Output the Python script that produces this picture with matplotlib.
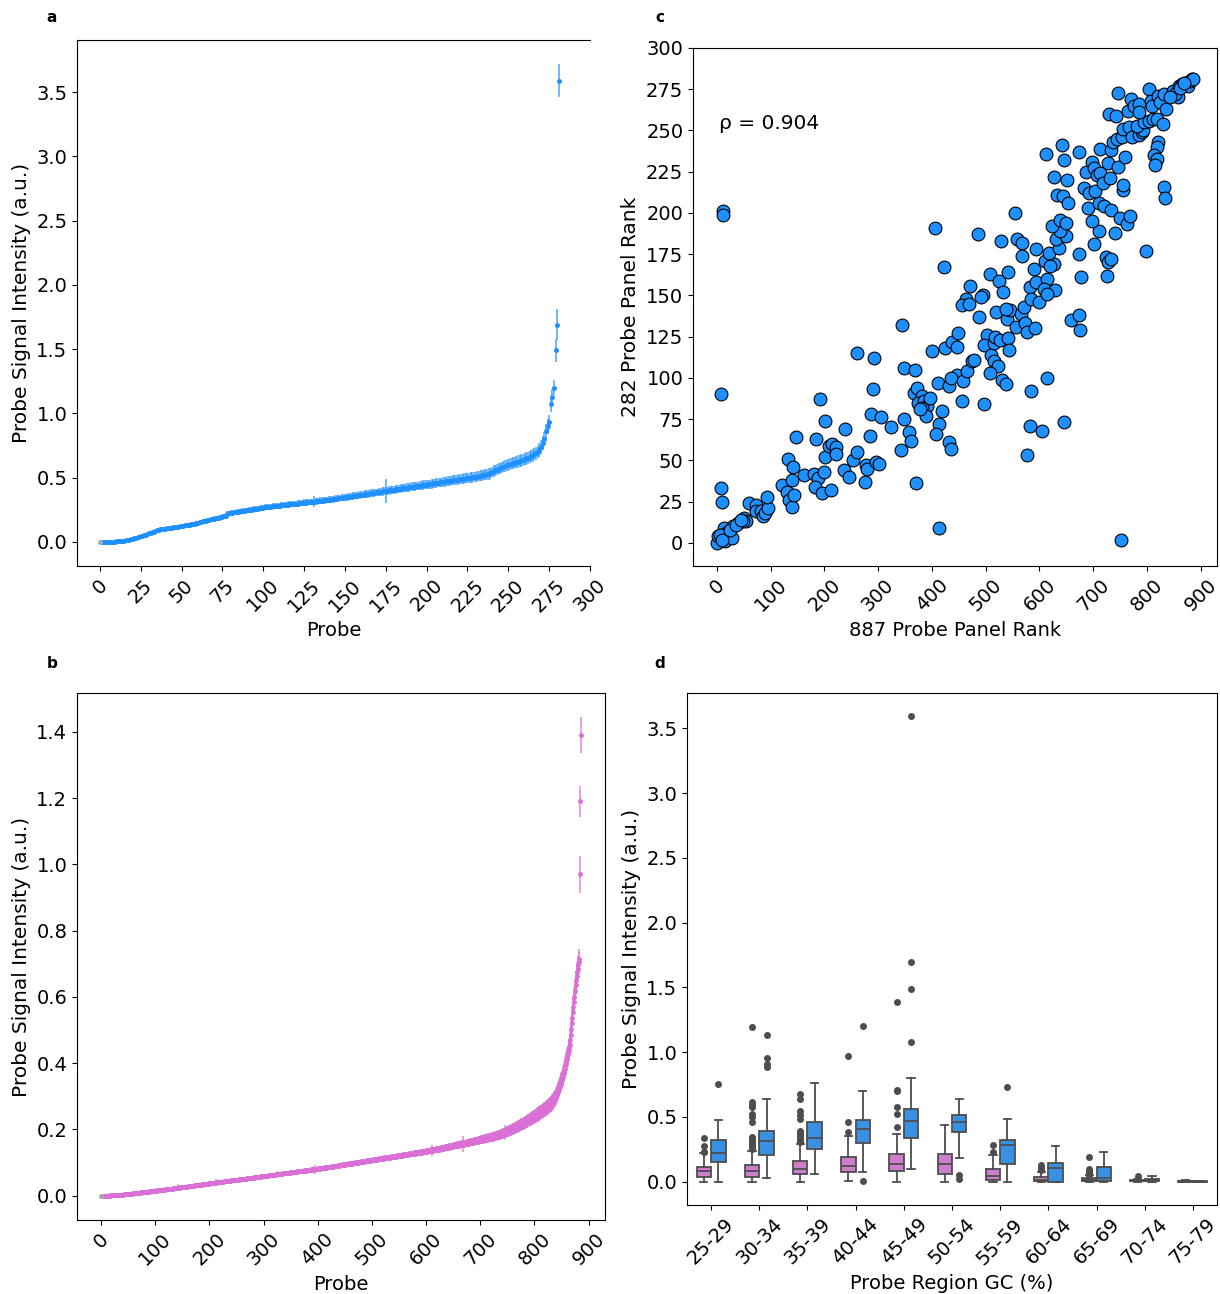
import numpy as np
import matplotlib
matplotlib.use('Agg')
import matplotlib.pyplot as plt
from matplotlib.colors import to_rgba

plt.rcParams['font.family'] = ['DejaVu Sans']

# ---- panel a : 282 probe panel, sorted mean signal (x1e-3) and error (x1e-3)
a_mean_e3 = [
    0, 0, 0, 1, 1, 1, 2, 2, 3, 3, 4, 5, 5, 6, 8, 10, 12, 15, 18, 21,
    24, 27, 31, 35, 39, 44, 48, 53, 58, 63, 68, 72, 77, 81, 86, 90, 94, 97, 100, 102,
    104, 106, 108, 110, 112, 114, 116, 118, 120, 122, 125, 127, 129, 131, 133, 135, 137, 140, 143, 146,
    149, 153, 157, 160, 163, 166, 169, 172, 175, 178, 181, 184, 187, 190, 193, 196, 199, 203, 218, 224,
    226, 228, 230, 232, 234, 236, 238, 240, 242, 244, 246, 248, 250, 252, 254, 256, 258, 260, 262, 265,
    268, 269, 271, 272, 274, 275, 277, 278, 280, 281, 283, 284, 286, 287, 289, 290, 292, 293, 295, 296,
    298, 299, 301, 302, 304, 305, 307, 308, 310, 311, 313, 314, 316, 317, 319, 320, 322, 323, 325, 326,
    328, 330, 332, 334, 336, 337, 339, 341, 343, 345, 347, 349, 351, 353, 355, 357, 359, 361, 363, 365,
    367, 369, 371, 373, 375, 377, 379, 381, 383, 385, 387, 389, 391, 393, 395, 397, 399, 401, 403, 405,
    407, 409, 411, 413, 415, 417, 419, 421, 423, 425, 427, 429, 431, 433, 435, 437, 439, 441, 443, 445,
    447, 449, 451, 453, 455, 457, 459, 461, 463, 465, 467, 469, 471, 473, 475, 477, 479, 481, 483, 485,
    487, 489, 491, 493, 495, 497, 499, 501, 503, 505, 507, 509, 512, 515, 518, 521, 524, 527, 530, 533,
    545, 551, 557, 563, 569, 575, 580, 585, 590, 595, 600, 605, 610, 614, 618, 622, 626, 630, 634, 638,
    645, 650, 655, 660, 668, 675, 683, 690, 700, 715, 740, 770, 800, 860, 900, 930, 1070, 1130, 1200, 1490,
    1690, 3590,
]
a_err_e3 = [
    1, 1, 1, 1, 1, 1, 1, 2, 1, 2, 2, 2, 2, 3, 3, 3, 4, 4, 5, 5,
    5, 6, 6, 7, 6, 7, 7, 8, 7, 8, 8, 9, 8, 9, 9, 10, 9, 10, 10, 11,
    10, 11, 11, 12, 11, 12, 12, 13, 12, 13, 14, 13, 14, 14, 15, 14, 15, 15, 16, 15,
    16, 15, 16, 17, 16, 17, 16, 17, 18, 17, 18, 17, 18, 19, 18, 18, 19, 22, 20, 19,
    19, 20, 19, 20, 21, 20, 19, 21, 20, 21, 20, 22, 21, 20, 22, 21, 22, 21, 23, 22,
    22, 23, 21, 22, 23, 22, 24, 23, 22, 24, 23, 24, 22, 24, 23, 25, 24, 23, 25, 24,
    24, 25, 24, 23, 25, 26, 24, 25, 26, 25, 24, 45, 25, 26, 25, 27, 26, 25, 27, 26,
    26, 27, 25, 27, 26, 28, 27, 26, 28, 27, 28, 27, 29, 28, 27, 29, 28, 29, 28, 30,
    28, 29, 30, 28, 30, 29, 31, 29, 30, 31, 29, 31, 30, 32, 31, 95, 30, 32, 31, 33,
    31, 32, 33, 31, 33, 32, 34, 32, 33, 34, 32, 34, 33, 35, 34, 33, 35, 34, 36, 35,
    34, 36, 35, 37, 35, 36, 37, 36, 38, 36, 37, 38, 37, 39, 38, 37, 39, 38, 40, 39,
    38, 40, 39, 41, 39, 40, 41, 40, 42, 41, 40, 42, 41, 43, 42, 41, 43, 42, 44, 43,
    42, 44, 43, 45, 44, 43, 45, 44, 46, 45, 44, 46, 45, 47, 46, 45, 47, 46, 48, 47,
    46, 48, 47, 49, 48, 50, 49, 51, 50, 52, 55, 53, 57, 55, 58, 60, 56, 62, 60, 90,
    120, 130,
]

# ---- panel b : 887 probe panel, sorted mean signal (x1e-4) and error (x1e-3)
b_mean_e4 = [
    0, 0, 0, 1, 1, 1, 2, 2, 2, 3, 3, 3, 4, 4, 5, 5, 6, 7, 8, 9,
    10, 11, 12, 13, 14, 15, 16, 17, 18, 19, 20, 21, 23, 24, 25, 27, 28, 30, 31, 33,
    35, 36, 38, 40, 41, 43, 45, 46, 48, 50, 52, 53, 55, 57, 59, 60, 62, 64, 66, 68,
    70, 72, 74, 76, 78, 80, 82, 84, 86, 88, 90, 92, 94, 96, 98, 100, 102, 104, 106, 108,
    110, 112, 114, 116, 118, 120, 122, 124, 126, 128, 130, 132, 134, 136, 138, 140, 142, 144, 146, 148,
    150, 152, 154, 156, 158, 160, 162, 164, 166, 168, 170, 172, 174, 176, 178, 180, 182, 184, 186, 188,
    190, 192, 194, 197, 199, 201, 203, 206, 208, 210, 212, 215, 217, 219, 221, 224, 226, 228, 230, 233,
    235, 237, 239, 242, 244, 246, 248, 251, 253, 255, 257, 260, 262, 264, 266, 269, 271, 273, 275, 278,
    280, 282, 284, 287, 289, 291, 293, 296, 298, 300, 302, 305, 307, 309, 311, 314, 316, 318, 320, 323,
    325, 327, 329, 332, 334, 336, 338, 341, 343, 345, 347, 350, 352, 354, 356, 359, 361, 363, 365, 368,
    370, 372, 374, 377, 379, 381, 383, 386, 388, 390, 392, 395, 397, 399, 401, 404, 406, 408, 410, 413,
    415, 417, 419, 422, 424, 426, 428, 431, 433, 435, 437, 440, 442, 444, 446, 449, 451, 453, 455, 458,
    460, 462, 464, 466, 468, 470, 472, 474, 476, 478, 480, 482, 484, 486, 488, 490, 492, 494, 496, 498,
    500, 502, 504, 507, 509, 511, 513, 516, 518, 520, 522, 525, 527, 529, 531, 534, 536, 538, 540, 543,
    545, 547, 549, 552, 554, 556, 558, 561, 563, 565, 567, 570, 572, 574, 576, 579, 581, 583, 585, 588,
    590, 592, 594, 597, 599, 601, 603, 606, 608, 610, 612, 615, 617, 619, 621, 624, 626, 628, 630, 633,
    635, 637, 639, 642, 644, 646, 648, 651, 653, 655, 657, 660, 662, 664, 666, 669, 671, 673, 675, 678,
    680, 682, 684, 687, 689, 691, 693, 696, 698, 700, 702, 705, 707, 709, 711, 714, 716, 718, 720, 723,
    725, 727, 729, 731, 733, 735, 737, 739, 741, 743, 745, 747, 749, 751, 753, 755, 757, 759, 761, 763,
    765, 767, 769, 772, 774, 776, 778, 781, 783, 785, 787, 790, 792, 794, 796, 799, 801, 803, 805, 808,
    810, 812, 815, 817, 820, 822, 825, 827, 830, 832, 835, 837, 840, 842, 845, 847, 850, 852, 855, 857,
    860, 862, 865, 867, 870, 872, 875, 877, 880, 882, 885, 887, 890, 892, 895, 897, 900, 902, 905, 907,
    910, 913, 915, 918, 921, 924, 926, 929, 932, 935, 937, 940, 943, 946, 948, 951, 954, 957, 959, 962,
    965, 967, 970, 972, 975, 977, 980, 982, 985, 987, 990, 992, 995, 997, 1000, 1002, 1005, 1007, 1010, 1012,
    1015, 1018, 1020, 1023, 1026, 1029, 1031, 1034, 1037, 1040, 1042, 1045, 1048, 1051, 1053, 1056, 1059, 1062, 1064, 1067,
    1070, 1072, 1075, 1077, 1080, 1082, 1085, 1087, 1090, 1092, 1095, 1097, 1100, 1102, 1105, 1107, 1110, 1112, 1115, 1117,
    1120, 1122, 1125, 1127, 1130, 1132, 1135, 1137, 1140, 1142, 1145, 1147, 1150, 1152, 1155, 1157, 1160, 1162, 1165, 1167,
    1170, 1173, 1175, 1178, 1181, 1184, 1186, 1189, 1192, 1195, 1197, 1200, 1203, 1206, 1208, 1211, 1214, 1217, 1219, 1222,
    1225, 1227, 1230, 1232, 1235, 1237, 1240, 1242, 1245, 1247, 1250, 1252, 1255, 1257, 1260, 1262, 1265, 1267, 1270, 1272,
    1275, 1278, 1280, 1283, 1286, 1289, 1291, 1294, 1297, 1300, 1302, 1305, 1308, 1311, 1313, 1316, 1319, 1322, 1324, 1327,
    1330, 1333, 1336, 1339, 1342, 1345, 1348, 1351, 1354, 1357, 1360, 1363, 1366, 1369, 1372, 1375, 1378, 1381, 1384, 1387,
    1390, 1393, 1397, 1400, 1404, 1407, 1411, 1414, 1418, 1421, 1425, 1428, 1432, 1435, 1439, 1442, 1446, 1449, 1453, 1456,
    1460, 1464, 1467, 1471, 1474, 1478, 1481, 1485, 1488, 1492, 1495, 1499, 1502, 1506, 1509, 1513, 1516, 1520, 1523, 1527,
    1530, 1534, 1537, 1541, 1544, 1548, 1551, 1555, 1558, 1562, 1565, 1569, 1572, 1576, 1579, 1583, 1586, 1590, 1593, 1597,
    1600, 1604, 1608, 1612, 1616, 1620, 1624, 1628, 1632, 1636, 1640, 1644, 1648, 1652, 1656, 1660, 1664, 1668, 1672, 1676,
    1680, 1684, 1688, 1692, 1696, 1700, 1704, 1708, 1712, 1716, 1720, 1724, 1728, 1732, 1736, 1740, 1744, 1748, 1752, 1756,
    1760, 1765, 1770, 1775, 1780, 1785, 1790, 1795, 1800, 1805, 1810, 1815, 1820, 1825, 1830, 1835, 1840, 1845, 1850, 1855,
    1860, 1867, 1875, 1882, 1890, 1897, 1905, 1912, 1920, 1927, 1935, 1942, 1950, 1957, 1965, 1972, 1980, 1987, 1995, 2002,
    2010, 2018, 2027, 2035, 2044, 2052, 2061, 2069, 2078, 2086, 2095, 2103, 2112, 2120, 2129, 2137, 2146, 2154, 2163, 2171,
    2180, 2190, 2200, 2210, 2220, 2230, 2240, 2250, 2260, 2270, 2280, 2290, 2300, 2310, 2320, 2330, 2340, 2350, 2360, 2370,
    2380, 2392, 2404, 2416, 2428, 2440, 2452, 2464, 2476, 2488, 2500, 2512, 2524, 2536, 2548, 2560, 2572, 2584, 2596, 2608,
    2620, 2632, 2644, 2656, 2668, 2680, 2696, 2712, 2728, 2744, 2760, 2780, 2800, 2820, 2840, 2860, 2885, 2910, 2940, 2970,
    3020, 3055, 3090, 3130, 3170, 3215, 3260, 3310, 3360, 3415, 3470, 3525, 3580, 3640, 3700, 3765, 3830, 3905, 3980, 4060,
    4140, 4210, 4285, 4360, 4450, 4540, 4700, 4860, 5030, 5200, 5370, 5540, 5700, 5850, 6000, 6180, 6350, 6500, 6630, 6750,
    6850, 6950, 7050, 7150, 9700, 11900, 13900,
]
b_err_e3 = [
    0, 1, 1, 1, 1, 1, 1, 1, 1, 1, 1, 1, 1, 1, 1, 1, 1, 1, 1, 1,
    1, 1, 1, 2, 1, 1, 2, 1, 2, 2, 1, 2, 2, 1, 2, 2, 2, 2, 1, 2,
    2, 2, 2, 2, 2, 2, 2, 3, 2, 2, 2, 2, 3, 2, 2, 3, 2, 2, 3, 2,
    2, 3, 2, 3, 2, 3, 2, 3, 3, 2, 3, 3, 2, 3, 3, 2, 3, 3, 3, 2,
    3, 3, 2, 3, 3, 3, 3, 2, 3, 3, 3, 4, 3, 3, 3, 3, 4, 3, 3, 3,
    3, 4, 3, 3, 4, 3, 3, 4, 3, 4, 3, 3, 4, 3, 4, 3, 4, 4, 3, 4,
    4, 3, 4, 4, 3, 4, 4, 3, 4, 4, 4, 3, 4, 4, 4, 3, 4, 4, 4, 4,
    4, 4, 3, 10, 4, 4, 4, 4, 3, 4, 4, 4, 4, 4, 4, 4, 5, 4, 4, 4,
    4, 4, 5, 4, 4, 4, 4, 5, 4, 4, 4, 5, 4, 4, 4, 5, 4, 4, 5, 4,
    4, 5, 4, 4, 5, 4, 4, 5, 4, 5, 4, 4, 5, 4, 5, 4, 5, 4, 5, 5,
    4, 5, 5, 4, 5, 5, 4, 5, 5, 5, 4, 5, 11, 5, 5, 4, 5, 5, 5, 5,
    5, 5, 4, 5, 5, 5, 5, 5, 5, 4, 5, 5, 5, 5, 5, 5, 5, 5, 5, 5,
    5, 5, 5, 6, 5, 5, 5, 5, 6, 5, 5, 5, 5, 6, 5, 5, 5, 6, 5, 5,
    5, 6, 5, 5, 6, 5, 5, 6, 5, 5, 6, 5, 5, 6, 5, 6, 5, 5, 6, 5,
    6, 5, 5, 6, 5, 6, 5, 6, 5, 6, 5, 6, 6, 5, 6, 5, 6, 6, 5, 6,
    6, 5, 6, 6, 5, 6, 6, 5, 6, 6, 5, 6, 6, 6, 5, 6, 6, 5, 6, 6,
    6, 6, 5, 6, 6, 6, 6, 10, 6, 6, 6, 5, 6, 6, 6, 6, 6, 6, 6, 6,
    6, 6, 6, 7, 6, 6, 6, 6, 7, 6, 6, 6, 6, 7, 6, 6, 6, 7, 6, 6,
    6, 7, 6, 6, 7, 6, 6, 7, 6, 6, 7, 6, 7, 6, 6, 7, 6, 7, 6, 7,
    6, 7, 6, 7, 7, 6, 7, 6, 7, 7, 6, 7, 7, 6, 7, 14, 7, 6, 7, 7,
    7, 7, 6, 7, 7, 7, 7, 7, 6, 7, 7, 7, 7, 7, 7, 7, 7, 7, 7, 7,
    7, 7, 7, 7, 7, 7, 8, 7, 7, 7, 7, 7, 8, 7, 7, 7, 7, 8, 7, 7,
    7, 8, 7, 7, 7, 8, 7, 7, 8, 7, 7, 8, 7, 7, 8, 7, 8, 7, 7, 8,
    7, 8, 7, 8, 7, 8, 7, 8, 8, 7, 8, 7, 8, 8, 7, 8, 8, 7, 8, 8,
    8, 7, 8, 8, 8, 7, 8, 8, 8, 8, 7, 8, 8, 8, 8, 8, 8, 8, 8, 8,
    8, 8, 8, 8, 8, 8, 8, 8, 9, 8, 8, 8, 8, 8, 9, 8, 8, 8, 9, 8,
    8, 8, 9, 8, 8, 9, 8, 8, 9, 8, 8, 9, 8, 9, 8, 8, 9, 8, 9, 8,
    9, 8, 9, 8, 9, 9, 8, 9, 8, 9, 9, 8, 9, 9, 8, 9, 9, 9, 8, 9,
    9, 9, 8, 9, 9, 9, 9, 9, 9, 8, 9, 9, 9, 9, 9, 9, 9, 10, 9, 9,
    9, 9, 10, 9, 9, 9, 10, 9, 9, 10, 9, 9, 10, 9, 10, 9, 9, 10, 9, 10,
    9, 10, 9, 10, 10, 9, 10, 10, 9, 10, 10, 16, 10, 9, 10, 10, 10, 10, 10, 10,
    10, 10, 10, 11, 10, 10, 10, 11, 10, 10, 11, 10, 10, 11, 10, 11, 10, 11, 10, 11,
    11, 10, 11, 10, 11, 11, 10, 11, 11, 11, 10, 11, 11, 11, 11, 11, 11, 12, 11, 11,
    11, 11, 12, 11, 11, 12, 11, 11, 24, 11, 12, 11, 12, 12, 11, 12, 12, 11, 12, 12,
    12, 12, 12, 12, 12, 13, 12, 12, 12, 13, 12, 12, 13, 12, 13, 12, 13, 12, 13, 13,
    13, 12, 13, 13, 13, 13, 13, 14, 13, 13, 13, 14, 13, 14, 13, 14, 13, 14, 14, 13,
    14, 14, 14, 14, 14, 15, 14, 14, 15, 14, 15, 14, 15, 15, 14, 15, 15, 15, 15, 15,
    15, 15, 16, 15, 16, 15, 22, 16, 16, 16, 16, 16, 16, 17, 16, 16, 17, 16, 17, 17,
    17, 17, 17, 17, 17, 18, 17, 18, 17, 18, 18, 18, 18, 18, 18, 18, 19, 18, 19, 18,
    19, 19, 19, 19, 19, 19, 20, 19, 20, 20, 19, 20, 20, 20, 20, 20, 21, 20, 20, 21,
    21, 21, 20, 21, 21, 21, 22, 21, 21, 22, 21, 22, 22, 21, 22, 22, 22, 22, 22, 23,
    22, 23, 22, 23, 23, 23, 23, 23, 24, 23, 24, 23, 24, 24, 24, 24, 24, 25, 24, 25,
    25, 24, 25, 25, 25, 25, 26, 25, 26, 25, 26, 26, 26, 26, 26, 27, 26, 27, 26, 27,
    27, 27, 27, 28, 27, 28, 28, 27, 28, 28, 28, 28, 29, 28, 29, 28, 29, 29, 28, 29,
    29, 29, 30, 30, 55, 48, 55,
]

# ---- panel c : rank of each probe in the 887 panel vs the 282 panel
rank_887 = [
    11, 11, 406, 422, 486, 528, 554, 559, 568, 567, 593, 590, 509, 524, 542, 471, 533, 496, 464, 583,
    593, 614, 609, 629, 611, 628, 620, 617, 636, 631, 650, 639, 623, 639, 649, 673, 677, 701, 710, 698,
    691, 711, 721, 733, 724, 727, 734, 725, 740, 750, 763, 768, 755, 756, 798, 832, 834, 821, 819, 814,
    819, 815, 683, 692, 703, 686, 697, 701, 707, 713, 718, 731, 728, 747, 760, 628, 652, 645, 612, 642,
    674, 632, 643, 653, 713, 733, 737, 745, 754, 756, 766, 772, 786, 790, 792, 781, 795, 803, 811, 818,
    829, 730, 742, 746, 765, 771, 776, 785, 786, 803, 807, 809, 821, 824, 832, 836, 848, 857, 859, 865,
    870, 875, 877, 880, 884, 886, 852, 862, 843, 868,
    0, 3, 16, 13, 18, 22, 29, 30, 40, 51, 54, 48, 5, 10, 25, 35, 45, 8, 7, 9,
    59, 72, 73, 82, 85, 89, 95, 93, 121, 131, 139, 134, 139, 143, 133, 142, 147, 162, 180, 188,
    182, 199, 196, 212, 191, 201, 184, 202, 208, 215, 222, 222, 238, 237, 245, 253, 261, 260, 275, 278,
    280, 296, 301, 284, 287, 291, 293, 306, 324, 343, 345, 349, 357, 361, 349, 369, 370, 366, 373, 382,
    374, 385, 391, 381, 396, 389, 377, 400, 412, 419, 414, 407, 413, 424, 432, 436, 431, 438, 448, 447,
    446, 436, 458, 466, 456, 475, 478, 497, 487, 456, 469, 492, 503, 497, 510, 516, 518, 527, 541, 543,
    515, 523, 508, 530, 537, 520, 540, 546, 537, 556, 565, 571, 573, 576, 592, 585, 600, 615, 615, 585,
    583, 604, 646, 576, 659, 674, 675, 752,
]
rank_282 = [
    201, 199, 191, 167, 187, 183, 200, 184, 182, 174, 178, 166, 163, 159, 164, 156, 152, 150, 148, 155,
    158, 160, 154, 153, 171, 169, 168, 176, 179, 184, 186, 189, 192, 196, 194, 175, 161, 181, 189, 195,
    203, 206, 204, 202, 173, 170, 172, 162, 188, 197, 193, 198, 214, 217, 177, 216, 209, 243, 240, 235,
    233, 229, 215, 212, 213, 225, 231, 227, 223, 224, 218, 221, 230, 228, 234, 222, 220, 232, 236, 241,
    237, 211, 210, 206, 239, 238, 243, 245, 246, 251, 252, 246, 247, 249, 250, 253, 255, 256, 257, 257,
    254, 260, 259, 273, 262, 269, 265, 266, 261, 275, 268, 265, 271, 267, 272, 263, 274, 270, 277, 278,
    279, 278, 277, 280, 281, 281, 272, 276, 270, 279,
    0, 4, 1, 9, 6, 7, 3, 10, 12, 15, 13, 13, 5, 2, 8, 11, 14, 90, 33, 25,
    24, 23, 19, 19, 16, 18, 21, 28, 35, 31, 38, 26, 22, 29, 51, 46, 64, 41, 42, 39,
    34, 43, 30, 32, 87, 74, 63, 52, 59, 60, 58, 54, 69, 44, 40, 50, 55, 115, 37, 47,
    45, 49, 48, 65, 78, 93, 112, 76, 70, 56, 132, 75, 67, 62, 106, 105, 36, 91, 94, 89,
    85, 86, 83, 82, 88, 77, 81, 116, 97, 80, 72, 66, 9, 118, 61, 57, 95, 122, 127, 119,
    102, 100, 98, 104, 86, 110, 111, 84, 137, 144, 145, 149, 126, 120, 114, 121, 125, 123, 124, 117,
    110, 107, 103, 99, 96, 140, 136, 141, 142, 131, 139, 143, 133, 128, 130, 148, 146, 151, 100, 92,
    71, 68, 73, 53, 135, 138, 129, 2,
]
rho_text = 'ρ = 0.904'

# ---- panel d : box plot statistics by GC bin
gc_bins = ['25-29', '30-34', '35-39', '40-44', '45-49', '50-54',
           '55-59', '60-64', '65-69', '70-74', '75-79']

p887_q1 = [0.039, 0.039, 0.057, 0.075, 0.080, 0.059, 0.013, 0.002, 0.004, 0.002, 0.001]
p887_med = [0.080, 0.082, 0.100, 0.118, 0.137, 0.134, 0.044, 0.013, 0.013, 0.006, 0.003]
p887_q3 = [0.116, 0.129, 0.157, 0.191, 0.211, 0.216, 0.095, 0.033, 0.028, 0.013, 0.008]
p887_lo = [0.0, 0.0, 0.0, 0.005, 0.0, 0.0, 0.0, 0.0, 0.0, 0.0, 0.0]
p887_hi = [0.220, 0.234, 0.289, 0.353, 0.366, 0.438, 0.209, 0.072, 0.049, 0.022, 0.012]
p887_fliers = [
    [0.227, 0.232, 0.273, 0.337],
    [0.252, 0.262, 0.273, 0.291, 0.300, 0.312, 0.330, 0.348, 0.464, 0.502, 0.520, 0.580, 0.595, 0.616, 1.195],
    [0.304, 0.315, 0.325, 0.343, 0.361, 0.376, 0.394, 0.484, 0.518, 0.549, 0.639, 0.680],
    [0.384, 0.464, 0.971],
    [0.422, 0.523, 0.574, 0.703, 0.711, 1.391],
    [],
    [0.232, 0.281],
    [0.090, 0.105, 0.116, 0.131],
    [0.054, 0.064, 0.072, 0.080, 0.095, 0.190],
    [0.041],
    [],
]
p282_q1 = [0.152, 0.209, 0.255, 0.301, 0.335, 0.381, 0.137, 0.000, 0.008, 0.003, 0.000]
p282_med = [0.224, 0.314, 0.340, 0.404, 0.469, 0.464, 0.283, 0.106, 0.028, 0.013, 0.001]
p282_q3 = [0.325, 0.392, 0.464, 0.477, 0.564, 0.515, 0.322, 0.147, 0.111, 0.023, 0.002]
p282_lo = [0.0, 0.031, 0.057, 0.077, 0.095, 0.185, 0.0, 0.0, 0.0, 0.0, 0.0]
p282_hi = [0.474, 0.641, 0.760, 0.698, 0.799, 0.641, 0.482, 0.273, 0.229, 0.044, 0.003]
p282_fliers = [
    [0.752],
    [0.889, 0.909, 0.956, 1.133],
    [],
    [0.003, 1.200],
    [1.079, 1.489, 1.695, 3.593],
    [0.018, 0.054],
    [0.732],
    [], [], [], [],
]

BLUE = '#1E90FF'
PINK = '#DA70D6'
BOX_BLUE = '#3A90E3'
BOX_PINK = '#CD7DCA'
GREY = '#4d4d4d'
FS = 14

fig = plt.figure(figsize=(12.2, 12.94), dpi=100)
W, H = 1220.0, 1294.0


def rect(l, t, r, b):
    return [l / W, 1 - b / H, (r - l) / W, (b - t) / H]


ax_a = fig.add_axes(rect(77, 40, 590, 566))
ax_c = fig.add_axes(rect(693, 48, 1217, 566))
ax_b = fig.add_axes(rect(77, 693, 605, 1220))
ax_d = fig.add_axes(rect(687, 693, 1217, 1205))


def sorted_panel(ax, mean, err, col):
    x = np.arange(len(mean))
    ecol = to_rgba(col, 0.65)
    ax.errorbar(x[1:], mean[1:], yerr=err[1:], fmt='o', ms=2.5, color=col,
                ecolor=ecol, elinewidth=1.4, capsize=0, zorder=2)
    ax.errorbar(x[:1], mean[:1], yerr=err[:1], fmt='o', ms=2.5, color='darkgray',
                ecolor='darkgray', elinewidth=1.4, capsize=0, zorder=3)
    ax.set_xlabel('Probe', fontsize=FS)
    ax.set_ylabel('Probe Signal Intensity (a.u.)', fontsize=FS + 0.5)
    ax.tick_params(labelsize=FS)


# panel a
a_mean = np.array(a_mean_e3) / 1000.0
a_err = np.array(a_err_e3) / 1000.0
sorted_panel(ax_a, a_mean, a_err, BLUE)
ax_a.set_xticks(range(0, 301, 25))
ax_a.set_xlim(-14.05, 300)
ax_a.spines['right'].set_visible(False)
plt.setp(ax_a.get_xticklabels(), rotation=45)

# panel b
b_mean = np.array(b_mean_e4) / 10000.0
b_err = np.array(b_err_e3) / 1000.0
sorted_panel(ax_b, b_mean, b_err, PINK)
ax_b.set_xticks(range(0, 901, 100))
plt.setp(ax_b.get_xticklabels(), rotation=45)

# panel c
ax_c.scatter(rank_887, rank_282, s=85, color=BLUE, edgecolor='black',
             linewidth=0.8, zorder=2)
ax_c.set_xticks(range(0, 901, 100))
ax_c.set_yticks(range(0, 301, 25))
ax_c.set_ylim(-14.05, 300)
ax_c.set_xlabel('887 Probe Panel Rank', fontsize=FS)
ax_c.set_ylabel('282 Probe Panel Rank', fontsize=FS + 0.5)
ax_c.tick_params(labelsize=FS)
plt.setp(ax_c.get_xticklabels(), rotation=45)
ax_c.text(0.05, 0.855, rho_text, transform=ax_c.transAxes, fontsize=FS + 0.5,
          va='center', ha='left')


# panel d
def make_stats(q1, med, q3, lo, hi, fl):
    return [dict(q1=q1[i], med=med[i], q3=q3[i], whislo=lo[i], whishi=hi[i],
                 fliers=fl[i]) for i in range(len(q1))]


pos = np.arange(len(gc_bins))
common = dict(widths=0.3, patch_artist=True, showcaps=True,
              medianprops=dict(color=GREY, linewidth=1.3),
              whiskerprops=dict(color=GREY, linewidth=1.3),
              capprops=dict(color=GREY, linewidth=1.3),
              flierprops=dict(marker='o', markerfacecolor=GREY,
                              markeredgecolor=GREY, markersize=4))
for stats, off, fc in [
        (make_stats(p887_q1, p887_med, p887_q3, p887_lo, p887_hi, p887_fliers), -0.15, BOX_PINK),
        (make_stats(p282_q1, p282_med, p282_q3, p282_lo, p282_hi, p282_fliers), 0.15, BOX_BLUE)]:
    ax_d.bxp(stats, positions=pos + off,
             boxprops=dict(facecolor=fc, edgecolor=GREY, linewidth=1.3),
             manage_ticks=False, **common)
ax_d.set_xlim(-0.5, len(gc_bins) - 0.5)
ax_d.set_xticks(pos)
ax_d.set_xticklabels(gc_bins, rotation=45)
ax_d.set_yticks(np.arange(0, 3.51, 0.5))
ax_d.set_xlabel('Probe Region GC (%)', fontsize=FS)
ax_d.set_ylabel('Probe Signal Intensity (a.u.)', fontsize=FS + 0.5)
ax_d.tick_params(labelsize=FS)

for lab, px, py in [('a', 52, 17), ('c', 660, 17), ('b', 52, 664), ('d', 660, 664)]:
    fig.text(px / W, 1 - py / H, lab, fontsize=11, fontweight='bold',
             ha='center', va='center')

fig.savefig('out.png', dpi=100)
